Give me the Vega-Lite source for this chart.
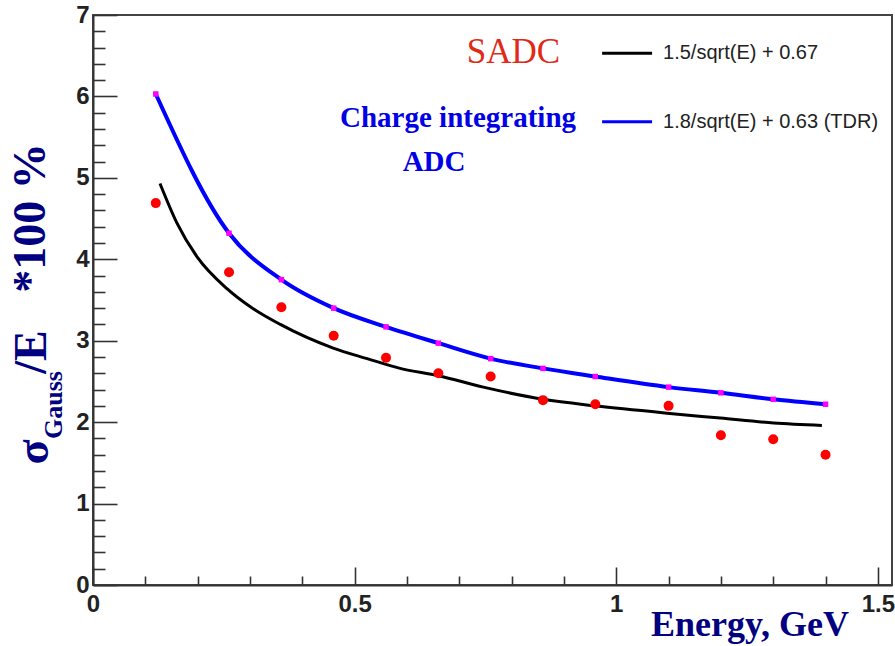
{
  "$schema": "https://vega.github.io/schema/vega-lite/v6.json",
  "width": 799,
  "height": 570,
  "autosize": {"type": "none"},
  "padding": {"left": 93, "top": 15, "right": 3, "bottom": 61},
  "background": "white",
  "config": {
    "view": {"stroke": "#444", "strokeWidth": 2},
    "axis": {"grid": false, "title": null, "domainColor": "#333", "domainWidth": 2, "tickColor": "#333", "tickWidth": 1.6,
             "labelFont": "Liberation Sans", "labelFontWeight": "bold", "labelFontSize": 24, "labelColor": "#222"}
  },
  "datasets": {
    "black": [
      {"E": 0.128, "v": 4.93}, {"E": 0.16, "v": 4.45}, {"E": 0.20, "v": 4.02}, {"E": 0.256, "v": 3.64},
      {"E": 0.30, "v": 3.42}, {"E": 0.358, "v": 3.20}, {"E": 0.459, "v": 2.91}, {"E": 0.524, "v": 2.78},
      {"E": 0.587, "v": 2.66}, {"E": 0.660, "v": 2.57}, {"E": 0.746, "v": 2.43}, {"E": 0.861, "v": 2.28},
      {"E": 0.960, "v": 2.20}, {"E": 1.097, "v": 2.11}, {"E": 1.199, "v": 2.05}, {"E": 1.301, "v": 1.99},
      {"E": 1.393, "v": 1.96}
    ],
    "blue": [
      {"E": 0.12, "v": 6.03}, {"E": 0.26, "v": 4.32}, {"E": 0.36, "v": 3.75}, {"E": 0.46, "v": 3.40},
      {"E": 0.56, "v": 3.17}, {"E": 0.66, "v": 2.97}, {"E": 0.76, "v": 2.78}, {"E": 0.86, "v": 2.66},
      {"E": 0.96, "v": 2.56}, {"E": 1.10, "v": 2.43}, {"E": 1.20, "v": 2.36}, {"E": 1.30, "v": 2.28},
      {"E": 1.40, "v": 2.22}
    ],
    "sadc": [
      {"E": 0.12, "v": 4.69}, {"E": 0.26, "v": 3.84}, {"E": 0.36, "v": 3.41}, {"E": 0.46, "v": 3.06},
      {"E": 0.56, "v": 2.79}, {"E": 0.66, "v": 2.60}, {"E": 0.76, "v": 2.56}, {"E": 0.86, "v": 2.27},
      {"E": 0.96, "v": 2.22}, {"E": 1.10, "v": 2.20}, {"E": 1.20, "v": 1.84}, {"E": 1.30, "v": 1.79},
      {"E": 1.40, "v": 1.60}
    ]
  },
  "resolve": {"axis": {"x": "independent", "y": "independent"}},
  "layer": [
    {
      "data": {"name": "black"},
      "mark": {"type": "line", "color": "#000000", "strokeWidth": 3, "interpolate": "monotone"},
      "encoding": {
        "x": {"field": "E", "type": "quantitative", "scale": {"domain": [0, 1.527], "nice": false, "zero": false},
              "axis": {"orient": "bottom", "values": [0, 0.5, 1, 1.5], "format": "~g", "tickSize": -18, "labelPadding": 25, "labelFlush": false}},
        "y": {"field": "v", "type": "quantitative", "scale": {"domain": [0, 7], "nice": false},
              "axis": {"orient": "left", "values": [0, 1, 2, 3, 4, 5, 6, 7], "tickSize": -24, "labelPadding": 28}}
      }
    },
    {
      "data": {"name": "blue"},
      "mark": {"type": "line", "color": "#0000ff", "strokeWidth": 4, "interpolate": "monotone"},
      "encoding": {
        "x": {"field": "E", "type": "quantitative",
              "axis": {"orient": "bottom", "values": [0.1, 0.2, 0.3, 0.4, 0.6, 0.7, 0.8, 0.9, 1.1, 1.2, 1.3, 1.4], "tickSize": -9, "labels": false, "domain": false}},
        "y": {"field": "v", "type": "quantitative",
              "axis": {"orient": "left", "values": [0.2, 0.4, 0.6, 0.8, 1.2, 1.4, 1.6, 1.8, 2.2, 2.4, 2.6, 2.8, 3.2, 3.4, 3.6, 3.8, 4.2, 4.4, 4.6, 4.8, 5.2, 5.4, 5.6, 5.8, 6.2, 6.4, 6.6, 6.8], "tickSize": -12, "labels": false, "domain": false}}
      }
    },
    {
      "data": {"name": "blue"},
      "mark": {"type": "point", "shape": "square", "filled": true, "color": "#ff00ff", "size": 30, "opacity": 1},
      "encoding": {
        "x": {"field": "E", "type": "quantitative", "axis": null},
        "y": {"field": "v", "type": "quantitative", "axis": null}
      }
    },
    {
      "data": {"name": "sadc"},
      "mark": {"type": "point", "shape": "circle", "filled": true, "color": "#ff0000", "size": 100, "opacity": 1},
      "encoding": {
        "x": {"field": "E", "type": "quantitative", "axis": null},
        "y": {"field": "v", "type": "quantitative", "axis": null}
      }
    },
    {
      "data": {"values": [
        {"x1": 0.973, "x2": 1.0685, "y": 6.529, "s": "fit15"},
        {"x1": 0.973, "x2": 1.0685, "y": 5.690, "s": "fit18"}
      ]},
      "mark": {"type": "rule", "strokeWidth": 3},
      "encoding": {
        "x": {"field": "x1", "type": "quantitative", "axis": null},
        "x2": {"field": "x2"},
        "y": {"field": "y", "type": "quantitative", "axis": null},
        "color": {"field": "s", "type": "nominal", "scale": {"domain": ["fit15", "fit18"], "range": ["#000000", "#0000ff"]}, "legend": null}
      }
    },
    {
      "data": {"values": [
        {"x": 1.0894, "y": 6.533, "t": "1.5/sqrt(E) + 0.67"},
        {"x": 1.0894, "y": 5.686, "t": "1.8/sqrt(E) + 0.63 (TDR)"}
      ]},
      "mark": {"type": "text", "font": "Liberation Sans", "fontSize": 20, "align": "left", "baseline": "middle", "color": "#222"},
      "encoding": {
        "x": {"field": "x", "type": "quantitative", "axis": null},
        "y": {"field": "y", "type": "quantitative", "axis": null},
        "text": {"field": "t"}
      }
    },
    {
      "data": {"values": [{"x": 0.8037, "y": 6.41, "t": "SADC"}]},
      "mark": {"type": "text", "font": "Liberation Serif", "fontSize": 35, "align": "center", "baseline": "alphabetic", "color": "#e02a18"},
      "encoding": {
        "x": {"field": "x", "type": "quantitative", "axis": null},
        "y": {"field": "y", "type": "quantitative", "axis": null},
        "text": {"field": "t"}
      }
    },
    {
      "data": {"values": [
        {"x": 0.6976, "y": 5.624, "t": "Charge integrating"},
        {"x": 0.6518, "y": 5.084, "t": "ADC"}
      ]},
      "mark": {"type": "text", "font": "Liberation Serif", "fontSize": 29, "fontWeight": "bold", "align": "center", "baseline": "alphabetic", "color": "#0000e6"},
      "encoding": {
        "x": {"field": "x", "type": "quantitative", "axis": null},
        "y": {"field": "y", "type": "quantitative", "axis": null},
        "text": {"field": "t"}
      }
    },
    {
      "data": {"values": [
        {"x": -0.1128, "y": 1.633, "t": "σ"},
        {"x": -0.1166, "y": 2.861, "t": "/E"},
        {"x": -0.1185, "y": 4.507, "t": "*100 %"}
      ]},
      "mark": {"type": "text", "font": "Liberation Serif", "fontSize": 46, "fontWeight": "bold", "align": "center", "baseline": "middle", "angle": 270, "color": "#000080"},
      "encoding": {
        "x": {"field": "x", "type": "quantitative", "axis": null},
        "y": {"field": "y", "type": "quantitative", "axis": null},
        "text": {"field": "t"}
      }
    },
    {
      "data": {"values": [{"x": -0.0745, "y": 2.21, "t": "Gauss"}]},
      "mark": {"type": "text", "font": "Liberation Serif", "fontSize": 26, "fontWeight": "bold", "align": "center", "baseline": "middle", "angle": 270, "color": "#000080"},
      "encoding": {
        "x": {"field": "x", "type": "quantitative", "axis": null},
        "y": {"field": "y", "type": "quantitative", "axis": null},
        "text": {"field": "t"}
      }
    },
    {
      "data": {"values": [{"x": 1.2557, "y": -0.626, "t": "Energy, GeV"}]},
      "mark": {"type": "text", "font": "Liberation Serif", "fontSize": 36, "fontWeight": "bold", "align": "center", "baseline": "alphabetic", "color": "#000080"},
      "encoding": {
        "x": {"field": "x", "type": "quantitative", "axis": null},
        "y": {"field": "y", "type": "quantitative", "axis": null},
        "text": {"field": "t"}
      }
    }
  ]
}
